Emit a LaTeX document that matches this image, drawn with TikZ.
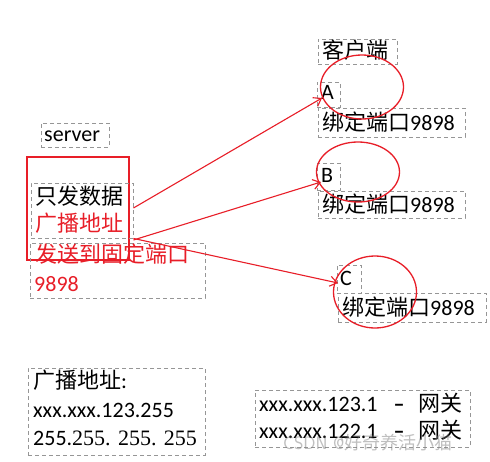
\documentclass[tikz,border=0pt]{standalone}
\usepackage{fontspec}
\setmainfont{Carlito}
\newfontfamily\cjk{Noto Sans CJK SC}
\newfontfamily\sernum{Liberation Serif}
\usetikzlibrary{arrows.meta,fit,shapes.geometric}
\definecolor{boxgray}{RGB}{150,150,150}
\definecolor{myred}{RGB}{232,30,40}
\newcommand\cj[1]{{\cjk #1}}
\begin{document}
\begin{tikzpicture}[x=1pt,y=-1pt,
  dbox/.style={draw=boxgray, dash pattern=on 4pt off 3pt, line width=0.9pt, inner sep=0pt, rectangle},
  redbox/.style={draw=myred, line width=1.2pt, inner sep=0pt, rectangle},
  txt/.style={anchor=base west, inner sep=0pt, font=\fontsize{22}{26}\selectfont},
  redarrow/.style={draw=myred, line width=1.1pt, -{Straight Barb[length=7pt,width=10pt]}},
  ell/.style={draw=myred, line width=1.3pt, ellipse, inner sep=0pt}]
\useasboundingbox[fill=white] (0,0) rectangle (490,461);

% server side
\node[dbox, fit={(41,123) (109,147)}] (srvbox) {};
\node[txt] (srv) at (44,141) {server};
\node[redbox, fit={(27,157) (129,260)}] (redrect) {};
\node[dbox, fit={(31,183) (133,238)}] (sendbox) {};
\node[txt] (t1) at (35,204) {\cj{只发数据}};
\node[txt, text=myred] (t2) at (35,231) {\cj{广播地址}};
\node[dbox, fit={(30,243) (205,298)}] (portbox) {};
\node[txt, text=myred] (t3) at (35,262) {\cj{发送到固定端口}};
\node[txt, text=myred] (t4) at (34,291) {9898};

% clients
\node[dbox, fit={(318,39) (397,64)}] (clbox) {};
\node[txt] (cl) at (322,58) {\cj{客户端}};

\node[dbox, fit={(317,82) (340,107)}] (Abox) {};
\node[txt] (A) at (321,99) {A};
\node[dbox, fit={(318,108) (465,137)}] (bA) {};
\node[txt] (bAt) at (322,130) {\cj{绑定端口}9898};
\node[ell, minimum width=83pt, minimum height=64pt] (eA) at (362,87) {};

\node[dbox, fit={(317,163) (340,190)}] (Bbox) {};
\node[txt] (B) at (321,182) {B};
\node[dbox, fit={(318,191) (465,218)}] (bB) {};
\node[txt] (bBt) at (322,212) {\cj{绑定端口}9898};
\node[ell, minimum width=83pt, minimum height=60pt] (eB) at (358,172) {};

\node[dbox, fit={(337,265) (361,293)}] (Cbox) {};
\node[txt] (C) at (340,285) {C};
\node[dbox, fit={(338,293) (486,322)}] (bC) {};
\node[txt] (bCt) at (342,315) {\cj{绑定端口}9898};
\node[ell, minimum width=83pt, minimum height=72pt] (eC) at (375,292) {};

% arrows
\coordinate (s1) at (sendbox.east |- t1.base);
\coordinate (s2) at (sendbox.east |- t2.base);
\coordinate (s3) at (sendbox.south east);
\coordinate (e1) at (322,98);
\coordinate (e2) at (321,182);
\coordinate (e3) at (338,283);
\draw[redarrow] ([yshift=-4pt]s1) -- (e1);
\draw[redarrow] ([yshift=-9pt]s2) -- (e2);
\draw[redarrow] (s3) -- (e3);

% bottom left
\node[dbox, fit={(28,368) (205,455)}] (bcbox) {};
\node[txt] (b1) at (33,388) {\cj{广播地址}:};
\node[txt] (b2) at (33,417) {xxx.xxx.123.255};
\node[txt] (b3) at (33,445) {255.{\sernum 255. 255. 255}};

% bottom right
\node[dbox, fit={(255,390) (470,447)}] (gwbox) {};
\node[txt] (g1) at (259,411) {xxx.xxx.123.1\hspace{16pt}\textbf{–}\hspace{14pt}\cj{网关}};
\node[txt] (g2) at (259,438) {xxx.xxx.122.1\hspace{16pt}\textbf{–}\hspace{14pt}\cj{网关}};

% watermark
\node[anchor=base west, inner sep=0pt, text=gray, opacity=0.5, font=\fontsize{18}{20}\selectfont\sffamily] (wm) at (283,449) {CSDN @\cj{好奇养活小猫}};
\end{tikzpicture}
\end{document}
